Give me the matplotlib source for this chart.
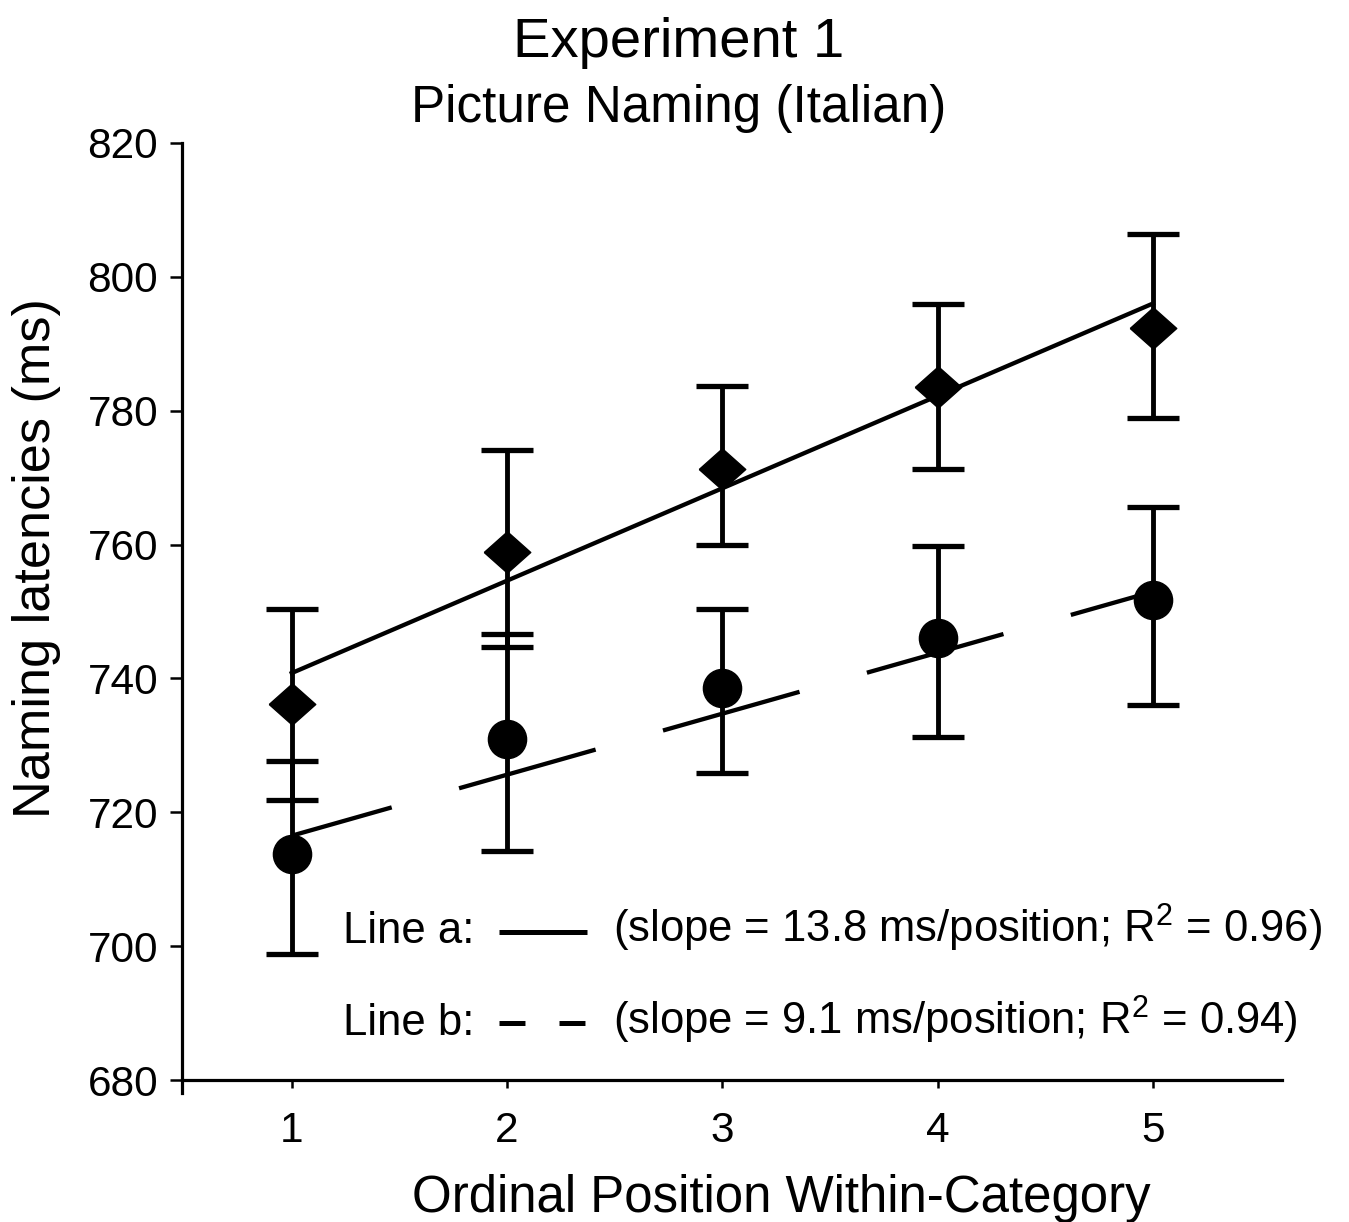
import numpy as np
import matplotlib
matplotlib.use('Agg')
import matplotlib.pyplot as plt
from matplotlib.lines import Line2D

plt.rcParams['font.family'] = ['Liberation Sans', 'DejaVu Sans']
plt.rcParams['mathtext.fontset'] = 'custom'
plt.rcParams['mathtext.rm'] = 'Liberation Sans'
plt.rcParams['mathtext.it'] = 'Liberation Sans:italic'
plt.rcParams['lines.scale_dashes'] = False

# data
positions = [1, 2, 3, 4, 5]

diamond_mean = [736.2, 758.9, 771.3, 783.6, 792.3]
diamond_low = [721.8, 744.7, 760.0, 771.3, 778.9]
diamond_high = [750.3, 774.1, 783.7, 796.0, 806.4]

circle_mean = [713.8, 730.9, 738.6, 746.0, 751.7]
circle_low = [698.9, 714.2, 725.8, 731.2, 736.1]
circle_high = [727.6, 746.6, 750.3, 759.8, 765.6]

# fitted lines (end points)
line_a_x = [1, 5]
line_a_y = [740.8, 796.0]
line_b_x = [1, 5.06]
line_b_y = [716.5, 753.5]

legend_a = r'(slope = 13.8 ms/position; $\mathrm{R}^{2}$ = 0.96)'
legend_b = r'(slope = 9.1 ms/position; $\mathrm{R}^{2}$ = 0.94)'


def yerr(mean, low, high):
    mean = np.asarray(mean)
    return [mean - np.asarray(low), np.asarray(high) - mean]


fig = plt.figure(figsize=(13.49, 12.22), dpi=100)
ax = fig.add_axes([0.1349, 0.10524, 0.8154, 0.7778])

diamond = [(-1, 0), (0, 0.89), (1, 0), (0, -0.89), (-1, 0)]
eb_kw = dict(fmt='none', ecolor='black', elinewidth=3.5, capsize=18.7, capthick=3.8, zorder=2)
ax.errorbar(positions, diamond_mean, yerr=yerr(diamond_mean, diamond_low, diamond_high), **eb_kw)
ax.errorbar(positions, circle_mean, yerr=yerr(circle_mean, circle_low, circle_high), **eb_kw)
ax.plot(positions, diamond_mean, linestyle='none', marker=diamond, markersize=33.5,
        color='black', zorder=3)
ax.plot(positions, circle_mean, linestyle='none', marker='o', markersize=27.5,
        color='black', zorder=3)

ax.plot(line_a_x, line_a_y, color='black', lw=3.1, zorder=4)
ax.plot(line_b_x, line_b_y, color='black', lw=3.1, linestyle=(27.4, (102.2, 50.4)),
        solid_capstyle='butt', dash_capstyle='butt', zorder=4)

ax.set_xlim(0.49, 5.6)
ax.set_ylim(678, 820)
ax.set_xticks(positions)
ax.set_yticks(range(680, 821, 20))
for s in ['top', 'right']:
    ax.spines[s].set_visible(False)
ax.spines['bottom'].set_position(('data', 680))
for s in ['left', 'bottom']:
    ax.spines[s].set_linewidth(2.3)
ax.tick_params(axis='y', direction='out', length=8.6, width=1.8, pad=8.5, labelsize=30.5)
ax.tick_params(axis='x', direction='out', length=5.8, width=1.8, pad=16.5, labelsize=30.5)

# titles and axis labels
fig.text(0.5033, 1 - 57 / 1222, 'Experiment 1', ha='center', va='baseline', fontsize=40.5)
fig.text(0.5033, 1 - 122 / 1222, 'Picture Naming (Italian)', ha='center', va='baseline', fontsize=36.9)
fig.text(0.0274, 0.543, 'Naming latencies (ms)', rotation=90, ha='center', va='center', fontsize=37.6)
fig.text(0.579, 1 - 1212 / 1222, 'Ordinal Position Within-Category', ha='center',
         va='baseline', fontsize=36.7)

# hand-made key
fig.text(0.2543, 1 - 943 / 1222, 'Line a:', ha='left', va='baseline', fontsize=31.4)
fig.text(0.2543, 1 - 1035 / 1222, 'Line b:', ha='left', va='baseline', fontsize=31.4)
fig.text(0.4544, 1 - 943 / 1222, legend_a, ha='left', va='baseline', fontsize=31.4)
fig.text(0.4544, 1 - 1035 / 1222, legend_b, ha='left', va='baseline', fontsize=31.4)
fig.add_artist(Line2D([0.3699, 0.4351], [1 - 932 / 1222] * 2, color='black', lw=3.6,
                      solid_capstyle='butt', transform=fig.transFigure))
fig.add_artist(Line2D([0.3699, 0.4351], [1 - 1023 / 1222] * 2, color='black', lw=3.6,
                      linestyle=(0, (18.7, 24.5)), dash_capstyle='butt',
                      transform=fig.transFigure))

fig.savefig('out.png', dpi=100)
